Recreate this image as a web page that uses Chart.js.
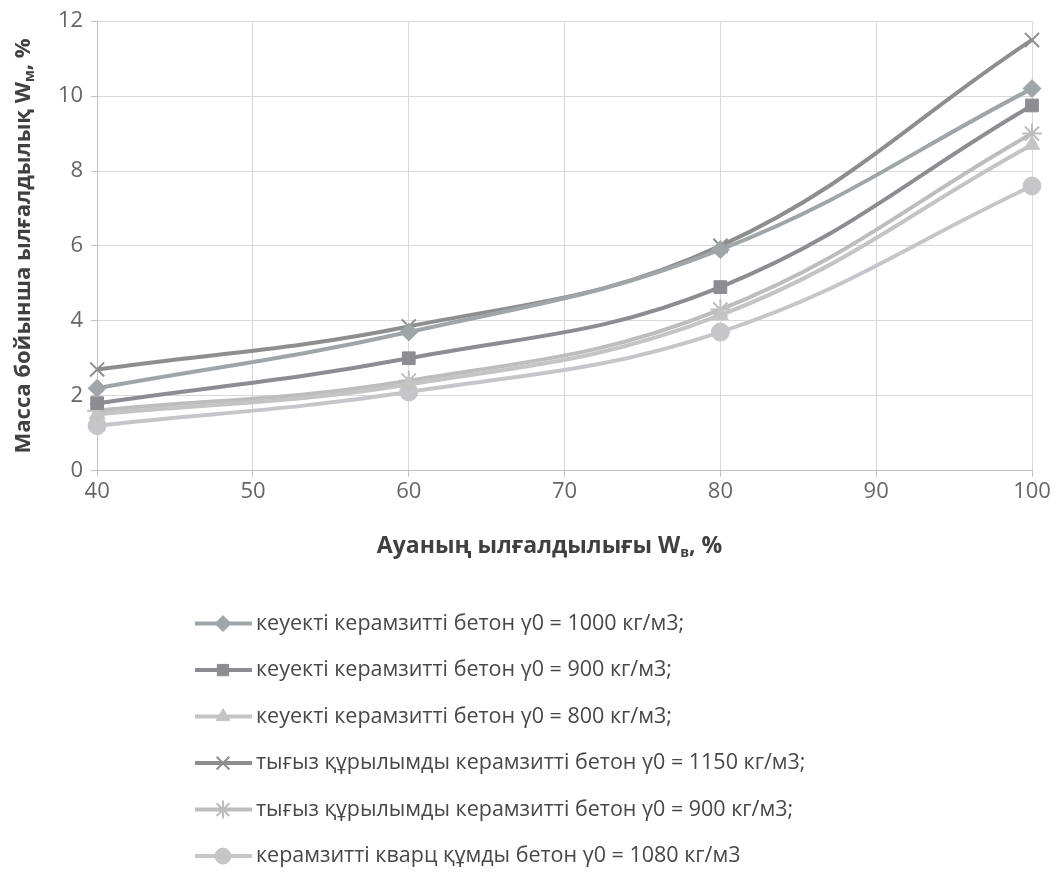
<!DOCTYPE html>
<html>
<head>
<meta charset="utf-8">
<script src="https://cdn.jsdelivr.net/npm/chart.js@4"></script>
<style>
  body { margin: 0; background: #fff; }
  #wrap { width: 1060px; height: 877px; }
</style>
</head>
<body>
<div id="wrap"><canvas id="myChart"></canvas></div>
<script>
const humidity = [40, 60, 80, 100];
const porous1000 = [2.2, 3.7, 5.9, 10.2];
const porous900 = [1.8, 3.0, 4.9, 9.75];
const porous800 = [1.5, 2.3, 4.15, 8.7];
const dense1150 = [2.7, 3.85, 6.0, 11.5];
const dense900 = [1.6, 2.4, 4.3, 9.0];
const quartz1080 = [1.2, 2.1, 3.7, 7.6];

const labels = [
  'кеуекті керамзитті бетон γ0 = 1000 кг/м3;',
  'кеуекті керамзитті бетон γ0 = 900 кг/м3;',
  'кеуекті керамзитті бетон γ0 = 800 кг/м3;',
  'тығыз құрылымды керамзитті бетон γ0 = 1150 кг/м3;',
  'тығыз құрылымды керамзитті бетон γ0 = 900 кг/м3;',
  'керамзитті кварц құмды бетон γ0 = 1080 кг/м3'
];

const FONT = "'Open Sans', sans-serif";

function pts(ys) {
  return humidity.map((x, i) => ({x: x, y: ys[i]}));
}

function series(label, ys, color, style, radius) {
  return {
    label: label,
    data: pts(ys),
    borderColor: color,
    backgroundColor: color,
    borderWidth: 4,
    tension: 0.4,
    clip: false,
    pointStyle: style,
    pointRadius: radius,
    pointBorderWidth: style === 'crossRot' || style === 'star' ? 2 : 1,
    pointBackgroundColor: color,
    pointBorderColor: color
  };
}

const data = {
  datasets: [
    series(labels[0], porous1000, '#9ea6aa', 'rectRot', 9),
    series(labels[1], porous900, '#8c8c92', 'rect', 9),
    series(labels[2], porous800, '#c4c4c4', 'triangle', 9),
    series(labels[3], dense1150, '#8e8e8e', 'crossRot', 10),
    series(labels[4], dense900, '#bdbdbd', 'star', 10),
    series(labels[5], quartz1080, '#c6c6ca', 'circle', 9)
  ]
};

// axis titles with subscripts
function drawParts(ctx, parts, x, y, size) {
  let total = 0;
  parts.forEach(p => {
    ctx.font = p[1] ? 'bold 14px ' + FONT : 'bold ' + size + 'px ' + FONT;
    total += ctx.measureText(p[0]).width;
  });
  let cx = x - total / 2;
  parts.forEach(p => {
    ctx.font = p[1] ? 'bold 14px ' + FONT : 'bold ' + size + 'px ' + FONT;
    ctx.fillText(p[0], cx, p[1] ? y + 6 : y);
    cx += ctx.measureText(p[0]).width;
  });
}

const axisTitles = {
  id: 'axisTitles',
  afterDraw(chart) {
    const ctx = chart.ctx;
    const a = chart.chartArea;
    ctx.save();
    ctx.fillStyle = '#404040';
    ctx.textBaseline = 'middle';
    ctx.textAlign = 'left';
    drawParts(ctx, [['Ауаның ылғалдылығы W', false], ['в', true], [', %', false]], (a.left + a.right) / 2 - 15, a.bottom + 76, 23);
    ctx.translate(24, (a.top + a.bottom) / 2);
    ctx.rotate(-Math.PI / 2);
    drawParts(ctx, [['Масса бойынша ылғалдылық W', false], ['м', true], [', %', false]], 0, 0, 22);
    ctx.restore();
  }
};

const lineLegend = {
  id: 'lineLegend',
  afterDraw(chart) {
    const ctx = chart.ctx;
    const top = chart.chartArea.bottom + 153;
    ctx.save();
    chart.data.datasets.forEach((ds, i) => {
      const y = top + i * 46.5;
      ctx.strokeStyle = ds.borderColor;
      ctx.lineWidth = 4;
      ctx.beginPath();
      ctx.moveTo(195, y);
      ctx.lineTo(252, y);
      ctx.stroke();
      ctx.fillStyle = ds.pointBackgroundColor;
      ctx.strokeStyle = ds.pointBorderColor;
      ctx.lineWidth = ds.pointBorderWidth;
      Chart.helpers.drawPoint(ctx, {pointStyle: ds.pointStyle, radius: ds.pointRadius - 1, borderWidth: ds.pointBorderWidth, rotation: 0}, 223, y);
      ctx.fillStyle = '#484848';
      ctx.font = '21.5px ' + FONT;
      ctx.textBaseline = 'middle';
      ctx.fillText(ds.label, 256, y);
    });
    ctx.restore();
  }
};

const config = {
  type: 'line',
  data: data,
  options: {
    responsive: true,
    maintainAspectRatio: false,
    animation: false,
    layout: {
      padding: {left: 50, top: 14, right: 28, bottom: 370}
    },
    plugins: {
      legend: {display: false},
      tooltip: {enabled: false}
    },
    scales: {
      x: {
        type: 'linear',
        min: 40,
        max: 100,
        ticks: {
          stepSize: 10,
          color: '#666666',
          font: {family: FONT, size: 22},
          padding: 2
        },
        grid: {color: '#d9d9d9', tickLength: 6, tickColor: '#bfbfbf'},
        border: {color: '#bfbfbf'}
      },
      y: {
        min: 0,
        max: 12,
        ticks: {
          stepSize: 2,
          color: '#666666',
          font: {family: FONT, size: 22},
          padding: 8
        },
        grid: {color: '#d9d9d9', tickLength: 6, tickColor: '#bfbfbf'},
        border: {color: '#bfbfbf'}
      }
    }
  },
  plugins: [axisTitles, lineLegend]
};

const myChart = new Chart(
  document.getElementById('myChart'),
  config
);
</script>
</body>
</html>
